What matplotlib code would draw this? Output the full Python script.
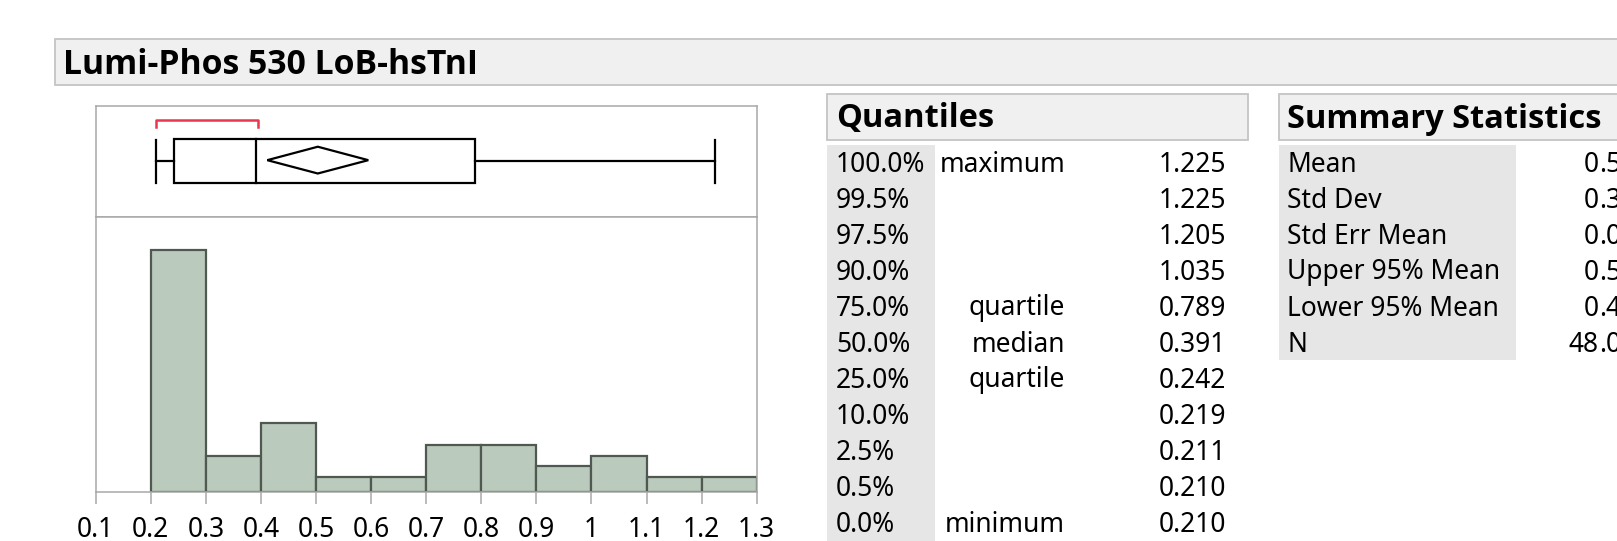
import matplotlib.pyplot as plt
from matplotlib import font_manager as fm
from matplotlib.patches import Rectangle, Polygon

plt.rcParams['font.family'] = ['Noto Sans', 'DejaVu Sans']

W, H = 1617, 541

title = "Lumi-Phos 530 LoB-hsTnI"

# histogram
bin_edges = [0.2, 0.3, 0.4, 0.5, 0.6, 0.7, 0.8, 0.9, 1.0, 1.1, 1.2, 1.3]
bin_counts = [22, 3, 6, 1, 1, 4, 4, 2, 3, 1, 1]
x_ticks = [0.1, 0.2, 0.3, 0.4, 0.5, 0.6, 0.7, 0.8, 0.9, 1.0, 1.1, 1.2, 1.3]
x_tick_labels = ["0.1", "0.2", "0.3", "0.4", "0.5", "0.6", "0.7", "0.8",
                 "0.9", "1", "1.1", "1.2", "1.3"]

# quantiles table
quantile_levels = ["100.0%", "99.5%", "97.5%", "90.0%", "75.0%", "50.0%",
                   "25.0%", "10.0%", "2.5%", "0.5%", "0.0%"]
quantile_names = ["maximum", "", "", "", "quartile", "median",
                  "quartile", "", "", "", "minimum"]
quantile_values = [1.225, 1.225, 1.205, 1.035, 0.789, 0.391,
                   0.242, 0.219, 0.211, 0.210, 0.210]

# summary statistics (right part is cut off in the report)
summary_names = ["Mean", "Std Dev", "Std Err Mean", "Upper 95% Mean",
                 "Lower 95% Mean", "N"]
summary_values = [0.5032, 0.3160, 0.0456, 0.5949, 0.4115, 48]

shortest_half = (0.210, 0.394)

GRID = '#a8a8a8'
HEAD_FILL = '#f0f0f0'
HEAD_EDGE = '#c4c4c4'
CELL_FILL = '#e6e6e6'
TXT = 19
HEAD = 23.5


def bold_family():
    # first family that really has a static bold face
    for fam in ['Noto Sans', 'Open Sans', 'Lato', 'Roboto', 'Liberation Sans']:
        try:
            path = fm.findfont(fm.FontProperties(family=fam, weight='bold'),
                               fallback_to_default=False)
        except Exception:
            continue
        if 'bold' in path.lower():
            return fam
    return 'DejaVu Sans'


BOLD = bold_family()


def panel(x0, y0, x1, y1):
    return fig.add_axes([x0 / W, 1 - y1 / H, (x1 - x0) / W, (y1 - y0) / H])


fig = plt.figure(figsize=(W / 100, H / 100), dpi=100)

bg = fig.add_axes([0, 0, 1, 1])
bg.set_xlim(0, W)
bg.set_ylim(H, 0)
bg.axis('off')

# title bar
bg.add_patch(Rectangle((54.5, 38.5), W, 46.5, fc=HEAD_FILL, ec=HEAD_EDGE, lw=1.3))
bg.text(63, 73.5, title, fontsize=24.3, fontweight='bold', family=BOLD,
        va='baseline', ha='left')

# quantiles
bg.add_patch(Rectangle((826.5, 93.5), 421, 46.5, fc=HEAD_FILL, ec=HEAD_EDGE, lw=1.3))
bg.text(836, 127.5, "Quantiles", fontsize=HEAD, fontweight='bold', family=BOLD,
        va='baseline')
bg.add_patch(Rectangle((826.5, 144.5), 108.5, H, fc=CELL_FILL, ec='none'))

row0, row_h = 171.5, 36
for i, (lev, name, val) in enumerate(zip(quantile_levels, quantile_names, quantile_values)):
    y = row0 + i * row_h
    bg.text(836, y, lev, fontsize=TXT, va='baseline', ha='left')
    if name:
        bg.text(1065, y, name, fontsize=TXT, va='baseline', ha='right')
    bg.text(1226, y, f"{val:.3f}", fontsize=TXT, va='baseline', ha='right')

# summary statistics
bg.add_patch(Rectangle((1278.5, 93.5), 400, 46.5, fc=HEAD_FILL, ec=HEAD_EDGE, lw=1.3))
bg.text(1287, 127.5, "Summary Statistics", fontsize=HEAD, fontweight='bold', family=BOLD,
        va='baseline')
bg.add_patch(Rectangle((1279, 144.5), 237, 215, fc=CELL_FILL, ec='none'))
for i, (name, val) in enumerate(zip(summary_names, summary_values)):
    y = row0 + i * row_h
    bg.text(1287, y, name, fontsize=TXT, va='baseline', ha='left')
    whole, frac = f"{val:.7f}".split('.')
    bg.text(1599, y, whole, fontsize=TXT, va='baseline', ha='right')
    bg.text(1599, y, '.' + frac, fontsize=TXT, va='baseline', ha='left')

# box plot
q_max, q3, med, q1, q_min = (quantile_values[0], quantile_values[4], quantile_values[5],
                             quantile_values[6], quantile_values[10])
mean, upper95, lower95 = summary_values[0], summary_values[3], summary_values[4]

bx = panel(95.7, 106.5, 756.7, 216.7)
bx.set_xlim(0.1, 1.3)
bx.set_ylim(0, 1)
bx.set_xticks([])
bx.set_yticks([])
for s in bx.spines.values():
    s.set_color(GRID)
    s.set_linewidth(1.1)

lw = 1.6
bx.add_patch(Rectangle((q1, 0.303), q3 - q1, 0.402, fc='none', ec='black', lw=lw))
bx.plot([med, med], [0.303, 0.705], color='black', lw=lw)
bx.plot([q_min, q1], [0.505, 0.505], color='black', lw=lw)
bx.plot([q3, q_max], [0.505, 0.505], color='black', lw=lw)
for v in (q_min, q_max):
    bx.plot([v, v], [0.31, 0.70], color='black', lw=lw)
bx.add_patch(Polygon([(lower95, 0.513), (mean, 0.635), (upper95, 0.513), (mean, 0.392)],
                     closed=True, fc='none', ec='black', lw=lw))
a, b = shortest_half
bx.plot([a, a, b, b], [0.811, 0.877, 0.877, 0.811], color='#e8384f', lw=1.8)

# histogram
ax = panel(95.7, 216.7, 756.7, 491.7)
y_lo = -0.33
ax.set_xlim(0.1, 1.3)
ax.set_ylim(y_lo, 25.08)
widths = [r - l for l, r in zip(bin_edges[:-1], bin_edges[1:])]
ax.bar(bin_edges[:-1], [c - y_lo for c in bin_counts], width=widths, bottom=y_lo,
       align='edge', color='#bacabc', edgecolor='#4f5952', linewidth=1.6, zorder=2)
for s in ax.spines.values():
    s.set_color(GRID)
    s.set_linewidth(1.1)
ax.set_xticks(x_ticks, x_tick_labels)
ax.set_yticks([])
ax.tick_params(axis='x', length=8.3, width=1.1, color=GRID, labelsize=TXT, pad=9.5)

fig.savefig('out.png', dpi=100)
